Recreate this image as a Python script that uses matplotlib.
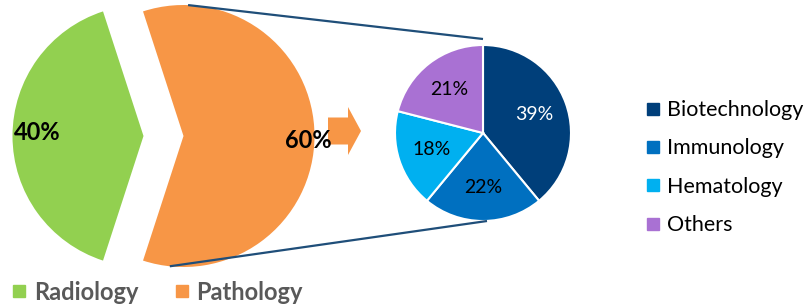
import numpy as np
import matplotlib.pyplot as plt
from matplotlib.lines import Line2D
from matplotlib.patches import FancyArrow

plt.rcParams['font.family'] = ['Lato', 'DejaVu Sans']

# data
main_labels = ['Radiology', 'Pathology']
main_values = [40, 60]
main_colors = ['#92d050', '#f79646']

sub_labels = ['Biotechnology', 'Immunology', 'Hematology', 'Others']
sub_values = [39, 22, 18, 21]
sub_colors = ['#003f7a', '#0070c0', '#00b0f0', '#a971d3']

W, H = 806, 305
fig = plt.figure(figsize=(W / 100, H / 100), dpi=100)
ax = fig.add_axes([0, 0, 1, 1])

# left pie (exploded halves)
lc, lr = (163.5, 169), 131
lw, _ = ax.pie(main_values, colors=main_colors, center=lc, radius=lr,
               startangle=108, explode=[20, 20], frame=True)

ax.text(14, H - 132, f'{main_values[0]}%', fontsize=17, fontweight='bold',
        ha='left', va='center')
ax.text(285, H - 141, f'{main_values[1]}%', fontsize=17, fontweight='bold',
        ha='left', va='center')

# arrow
ax.add_patch(FancyArrow(328, H - 131, 33, 0, width=27, head_width=48,
                        head_length=13, length_includes_head=True,
                        color='#f79646', lw=0))

# right pie
rc, rr = (483, 172), 88
sw, st, sa = ax.pie(sub_values, colors=sub_colors, center=rc, radius=rr,
                    startangle=90, counterclock=False, frame=True,
                    autopct=lambda p: f'{p:.0f}%', pctdistance=0.62,
                    wedgeprops=dict(edgecolor='white', linewidth=1.5),
                    textprops=dict(fontsize=14))
sa[0].set_color('white')

# connector lines
o = lw[1]
ox, oy = o.center
t1 = np.deg2rad(88)
t2 = np.deg2rad(264)
ax.plot([ox + lr * np.cos(t1), rc[0]], [oy + lr * np.sin(t1), rc[1] + rr + 6],
        color='#1f4e79', lw=1.6, solid_capstyle='butt')
ax.plot([ox + lr * np.cos(t2), rc[0] + 4], [oy + lr * np.sin(t2), rc[1] - rr],
        color='#1f4e79', lw=1.6, solid_capstyle='butt')

ax.set_xlim(0, W)
ax.set_ylim(0, H)
ax.set_aspect('equal')
ax.axis('off')

# legends
h1 = [Line2D([], [], marker='s', ls='', color=c, markersize=9) for c in main_colors]
leg1 = ax.legend(h1, main_labels, loc='lower left', bbox_to_anchor=(-0.012, -0.065),
                 ncol=2, frameon=False, handlelength=0.65, handletextpad=0.3,
                 columnspacing=1.5, prop=dict(size=17, weight='bold'))
for t in leg1.get_texts():
    t.set_color('#595959')
ax.add_artist(leg1)

h2 = [Line2D([], [], marker='s', ls='', color=c, markersize=9) for c in sub_colors]
ax.legend(h2, sub_labels, loc='upper left', bbox_to_anchor=(0.777, 0.735),
          frameon=False, handlelength=0.7, handletextpad=0.3,
          labelspacing=0.85, prop=dict(size=15.5))

fig.savefig('out.png', dpi=100)
